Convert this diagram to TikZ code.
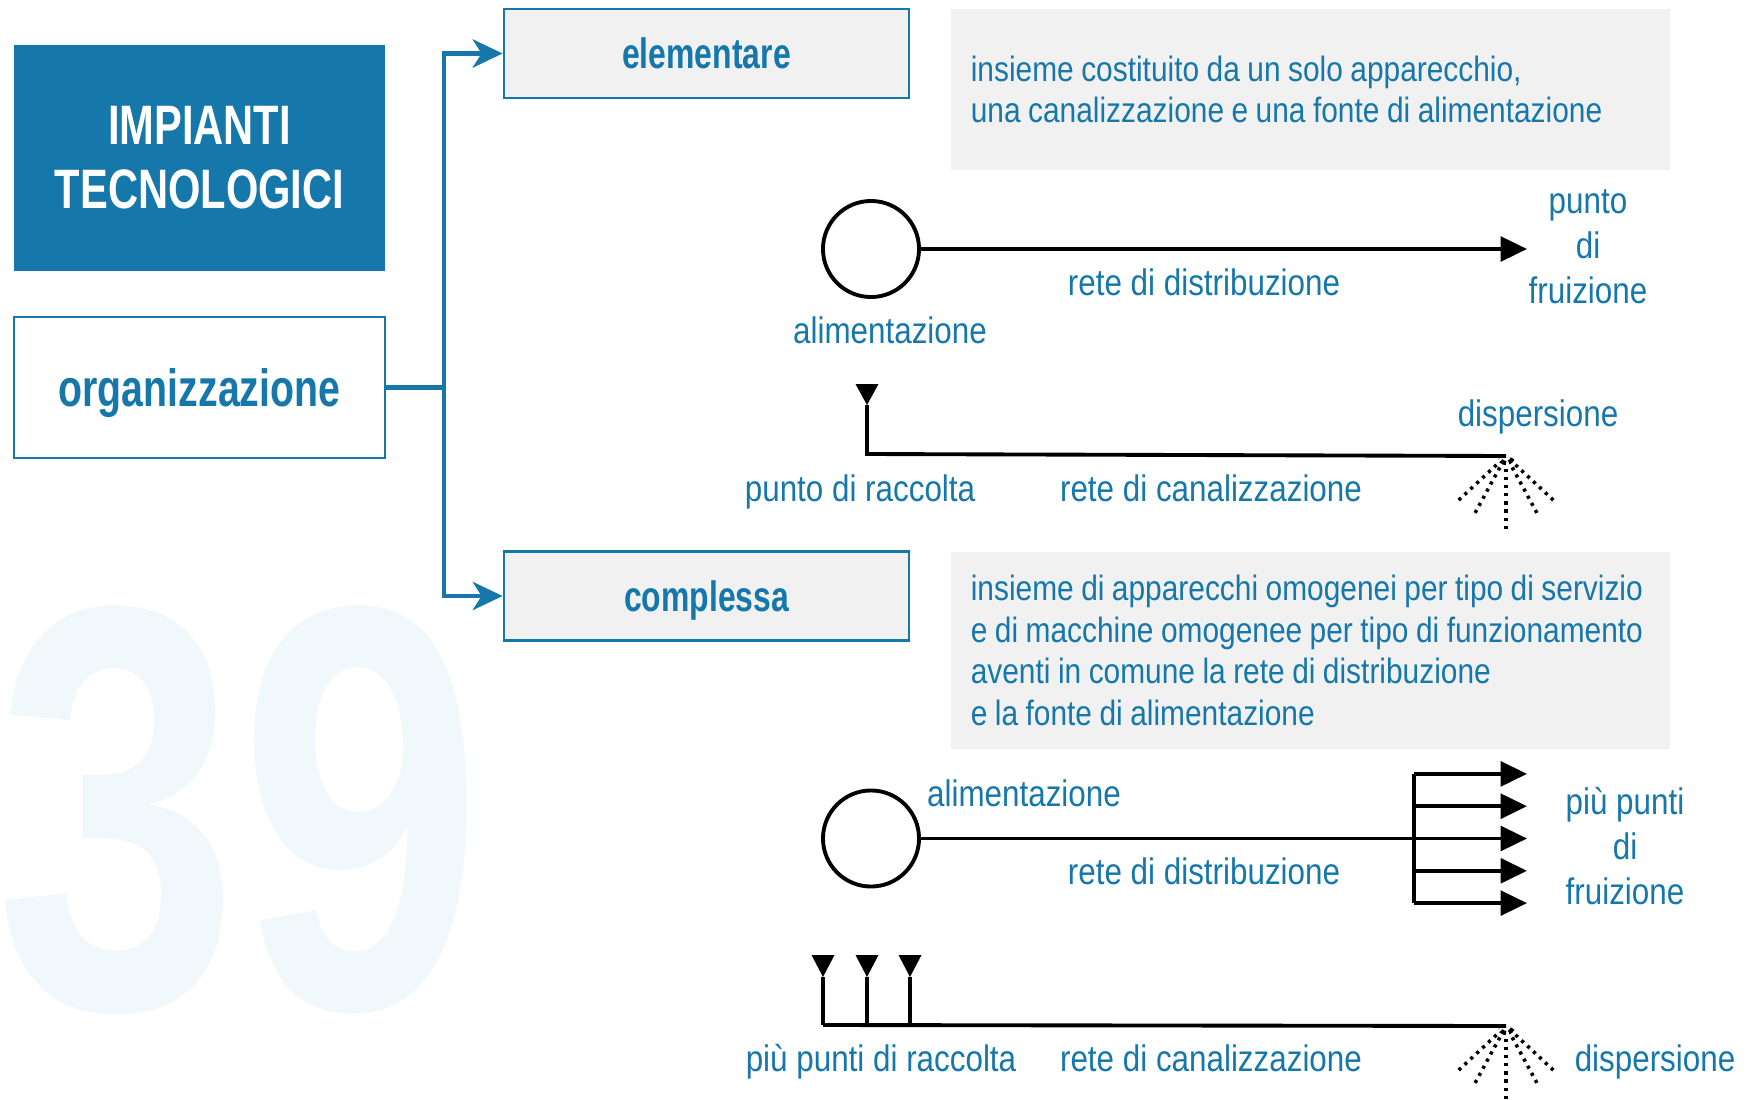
\documentclass[tikz,border=0pt]{standalone}
\usepackage{fontspec}
\setmainfont{Liberation Sans}[FakeStretch=0.85]
\newfontfamily\stretto{Liberation Sans}[FakeStretch=0.75]
\newfontfamily\descrfont{Liberation Sans}[FakeStretch=0.85, WordSpace=0.9]
\newfontfamily\cifra{Liberation Sans}[FakeStretch=0.76]
\usepackage{tikz}
\usetikzlibrary{positioning, arrows.meta}
\definecolor{blu}{RGB}{21,119,170}
\definecolor{grigio}{RGB}{241,241,241}
\definecolor{azzurrino}{RGB}{240,248,252}

% dispersion symbol at a point
\newcommand{\spruzzo}[1]{%
  \begin{scope}[shift={#1}]
    \foreach \a/\l in {90/73, 61.5/66, 118.5/66, 43/66, 137/66}
      \draw[punti] (\a:13) -- (\a:\l);
    \draw[line width=1.2pt, dash pattern=on 1.6pt off 0.8pt] (20:7) arc (20:160:7);
  \end{scope}}

\begin{document}
\begin{tikzpicture}[x=0.01cm, y=-0.01cm,
    titolo/.style={fill=blu, text=white, font=\stretto\bfseries\fontsize{15.8}{18.2}\selectfont, align=center, minimum width=3.71cm, minimum height=2.26cm},
    voce/.style={draw=blu, line width=0.7pt, text=blu, font=\stretto\bfseries\fontsize{14.9}{17}\selectfont, text depth=0pt, minimum width=3.71cm, minimum height=1.41cm},
    tipo/.style={draw=blu, line width=0.7pt, fill=grigio, text=blu, font=\stretto\bfseries\fontsize{12.1}{14}\selectfont, text depth=0pt, minimum width=4.05cm, minimum height=0.89cm},
    riquadro/.style={fill=grigio, minimum width=7.19cm, inner sep=0pt},
    dtesto/.style={text=blu, font=\descrfont\fontsize{10}{11.8}\selectfont, align=left, inner sep=0pt, anchor=west},
    lbl/.style={text=blu, font=\fontsize{10.5}{12.8}\selectfont, align=center, inner sep=0pt, text depth=0pt},
    ramo/.style={draw=blu, line width=1.4pt, -{Stealth[length=8.5pt, width=8pt, inset=2.5pt]}},
    filo/.style={line width=1.1pt},
    freccia/.style={filo, -{Triangle[length=7.5pt, width=7pt]}},
    fonte/.style={circle, draw, line width=1.1pt, minimum size=0.96cm, inner sep=0pt},
    punti/.style={line width=1pt, dash pattern=on 0.9pt off 1.4pt},
]
    \useasboundingbox (0,0) rectangle (1754,1100);
    % Watermark
    \node[anchor=base west, inner sep=0pt, text=azzurrino, font=\cifra\bfseries\fontsize{164}{164}\selectfont] (num) at (-5,1008) {39};

    % Left column
    \node[titolo] (imp) at (199.5,158) {IMPIANTI\\TECNOLOGICI};
    \node[voce] (org) at (199.5,387.5) {organizzazione};

    % Branches
    \node[tipo] (elem) at (706.5,53.5) {elementare};
    \node[tipo] (compl) at (706.5,596) {complessa};
    \coordinate (snodo) at (444,387.5);
    \draw[blu, line width=1.4pt] (org.east) -- (snodo);
    \draw[ramo] (snodo) |- (elem.west);
    \draw[ramo] (snodo) |- (compl.west);

    % Descriptions
    \node[riquadro, minimum height=1.61cm] (d1) at (1310.5,89.5) {};
    \node[dtesto] (t1) at ([xshift=0.2cm]d1.west) {insieme costituito da un solo apparecchio,\\una canalizzazione e una fonte di alimentazione};
    \node[riquadro, minimum height=1.97cm] (d2) at (1310.5,650.5) {};
    \node[dtesto] (t2) at ([xshift=0.2cm]d2.west) {insieme di apparecchi omogenei per tipo di servizio\\e di macchine omogenee per tipo di funzionamento\\aventi in comune la rete di distribuzione\\e la fonte di alimentazione};

    % Elementare: distribution
    \node[fonte] (al1) at (871,249) {};
    \coordinate (fr1) at (1527,249);
    \draw[freccia] (al1) -- (fr1);
    \node[lbl] (al1t) at (890,330) {alimentazione};
    \node[lbl] (rd1) at (1204,282) {rete di distribuzione};
    \node[lbl] (pf1) at (1588,247) {punto\\di\\fruizione};

    % Elementare: collection
    \coordinate (rc1) at (867,454);
    \coordinate (ds1) at (1506,456);
    \fill (855.5,384) -- (878.5,384) -- (867,405) -- cycle;
    \draw[filo] (867,405) -- (rc1) -- (ds1);
    \spruzzo{(ds1)}
    \node[lbl] (dt1) at (1538,413) {dispersione};
    \node[lbl] (pr1) at (860,488) {punto di raccolta};
    \node[lbl] (rc1t) at (1211,488) {rete di canalizzazione};

    % Complessa: distribution
    \node[fonte] (al2) at (871,838.5) {};
    \coordinate (sn2) at (1414,838.5);
    \draw[filo] (al2) -- (sn2);
    \draw[filo] (1414,774) -- (1414,903);
    \foreach \k in {-2,...,2}
      \draw[freccia] (1414,838.5+32.3*\k) -- (1527,838.5+32.3*\k);
    \node[lbl] (al2t) at (1024,793) {alimentazione};
    \node[lbl] (rd2) at (1204,871) {rete di distribuzione};
    \node[lbl] (pf2) at (1625,846) {più punti\\di\\fruizione};

    % Complessa: collection
    \coordinate (rc2) at (823,1025);
    \coordinate (ds2) at (1506,1026);
    \foreach \x in {823,867,910} {
      \fill (\x-11.5,955) -- (\x+11.5,955) -- (\x,977) -- cycle;
      \draw[filo] (\x,977) -- (\x,1025);
    }
    \draw[filo] (rc2) -- (ds2);
    \spruzzo{(ds2)}
    \node[lbl] (pr2) at (881,1058) {più punti di raccolta};
    \node[lbl] (rc2t) at (1211,1058) {rete di canalizzazione};
    \node[lbl] (dt2) at (1655,1058) {dispersione};
\end{tikzpicture}
\end{document}
